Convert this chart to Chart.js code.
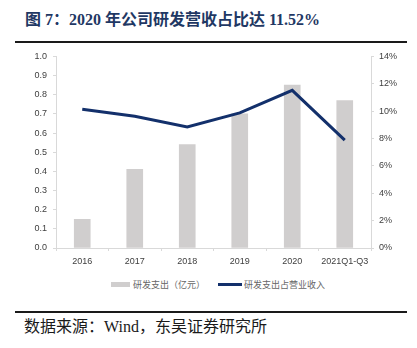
<!DOCTYPE html>
<html>
<head>
<meta charset="utf-8">
<script src="https://cdn.jsdelivr.net/npm/chart.js@4/dist/chart.umd.min.js"></script>
<style>
  html, body { margin: 0; padding: 0; background: #fff; }
  body { width: 417px; height: 348px; position: relative; overflow: hidden; }
  #title {
    position: absolute; left: 25px; top: 9px;
    font: bold 16px "Liberation Serif", "Noto Sans CJK SC", serif;
    color: #1f3864; white-space: nowrap; line-height: 22px;
  }
  .rule { position: absolute; left: 15px; width: 392px; background: #1a1a1a; }
  #rule-top { top: 41px; height: 2px; }
  #rule-bottom { top: 311px; height: 1.5px; }
  #wrap { position: absolute; left: 0; top: 45px; width: 417px; height: 230px; }
  #legend {
    position: absolute; top: 278px; left: 0; width: 417px; height: 14px;
    font: 9px "Noto Sans CJK SC", sans-serif; color: #666;
  }
  .lg-item { position: absolute; top: 0; line-height: 13px; white-space: nowrap; }
  .lg-bar { position: absolute; left: 111px; top: 4px; width: 19px; height: 5px; background: #d0cece; }
  .lg-line { position: absolute; left: 218px; top: 5px; width: 24px; height: 3px; background: #13306b; }
  #source {
    position: absolute; left: 24px; top: 316px;
    font: 16px "Liberation Serif", "Noto Sans CJK SC", serif;
    color: #1a1a1a; white-space: nowrap; line-height: 22px;
  }
</style>
</head>
<body>
<div id="title">图 7：2020 年公司研发营收占比达 11.52%</div>
<div class="rule" id="rule-top"></div>
<div id="wrap"><canvas id="chart" width="417" height="230"></canvas></div>
<div id="legend">
  <div class="lg-bar"></div>
  <div class="lg-item" id="lg-text-1" style="left:133px"></div>
  <div class="lg-line"></div>
  <div class="lg-item" id="lg-text-2" style="left:244px"></div>
</div>
<div class="rule" id="rule-bottom"></div>
<div id="source">数据来源：Wind，东吴证券研究所</div>

<script>
// Years reported
const categories = ['2016', '2017', '2018', '2019', '2020', '2021Q1-Q3'];
// R&D spending, 100 million yuan
const rdSpend = [0.15, 0.41, 0.54, 0.70, 0.85, 0.77];
// R&D spending as a share of revenue, %
const rdShare = [10.14, 9.63, 8.85, 9.87, 11.52, 7.88];
// Series names
const seriesNames = ['研发支出（亿元）', '研发支出占营业收入'];

document.getElementById('lg-text-1').textContent = seriesNames[0];
document.getElementById('lg-text-2').textContent = seriesNames[1];

const axisGray = '#d9d9d9';
const tickFont = { family: '"Liberation Sans Narrow", "Liberation Sans", Arial, sans-serif', size: 9 };

new Chart(document.getElementById('chart'), {
  data: {
    labels: categories,
    datasets: [
      {
        type: 'line',
        label: seriesNames[1],
        data: rdShare,
        yAxisID: 'yRight',
        borderColor: '#13306b',
        borderWidth: 3,
        pointRadius: 0,
        tension: 0,
        order: 0
      },
      {
        type: 'bar',
        label: seriesNames[0],
        data: rdSpend,
        yAxisID: 'yLeft',
        backgroundColor: '#d0cece',
        barThickness: 16,
        order: 1
      }
    ]
  },
  options: {
    responsive: false,
    animation: false,
    layout: { padding: { top: 11, left: 0, right: 0, bottom: 0 } },
    plugins: { legend: { display: false }, tooltip: { enabled: false } },
    scales: {
      x: {
        grid: { display: true, drawOnChartArea: false, drawTicks: true, tickLength: 3, color: axisGray, offset: true },
        border: { color: axisGray },
        ticks: { color: '#404040', font: tickFont, padding: 5, maxRotation: 0, autoSkip: false },
        afterFit: s => { s.height = 27; }
      },
      yLeft: {
        position: 'left',
        min: 0, max: 1,
        grid: { display: true, drawOnChartArea: false, drawTicks: true, tickLength: 3, color: axisGray },
        border: { color: axisGray },
        ticks: { stepSize: 0.1, color: '#404040', font: tickFont, padding: 6, callback: v => v.toFixed(1) },
        afterFit: s => { s.width = 56; }
      },
      yRight: {
        position: 'right',
        min: 0, max: 14,
        grid: { display: true, drawOnChartArea: false, drawTicks: true, tickLength: 3, color: axisGray },
        border: { color: axisGray },
        ticks: { stepSize: 2, color: '#404040', font: tickFont, padding: 5, callback: v => v + '%' },
        afterFit: s => { s.width = 46; }
      }
    }
  }
});
</script>
</body>
</html>
